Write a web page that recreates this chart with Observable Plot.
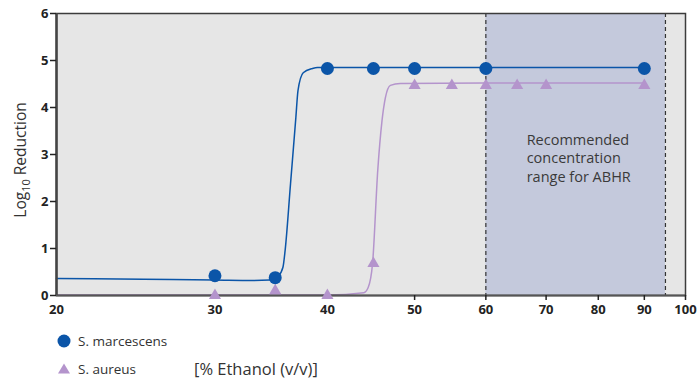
<!DOCTYPE html>
<html>
<head>
<meta charset="utf-8">
<script src="https://cdn.jsdelivr.net/npm/d3@7"></script>
<script src="https://cdn.jsdelivr.net/npm/@observablehq/plot@0.6"></script>
<style>
  body { margin: 0; background: #fff; font-family: "Open Sans", sans-serif; }
  #wrap { position: relative; width: 698px; height: 379px; }
  .leg { position: absolute; left: 56px; font-size: 13.5px; color: #333; display: flex; align-items: center; }
  .leg svg { margin-right: 6px; }
</style>
</head>
<body>
<div id="wrap">
  <div id="chart"></div>
  <div class="leg" style="top:332px;"><svg width="16" height="16"><circle cx="8" cy="8" r="6.5" fill="#0b55a8"/></svg><span>S. marcescens</span></div>
  <div class="leg" style="top:357px;"><svg width="16" height="16"><path d="M8,2.5 L14,12.5 L2,12.5 Z" fill="#b494cc"/></svg><span style="width:116px">S. aureus</span><span style="font-size:16.5px; color:#333">[% Ethanol (v/v)]</span></div>
</div>
<script>
// Data
const marcX = [30, 35, 40, 45, 50, 60, 90];
const marcY = [0.42, 0.38, 4.83, 4.83, 4.83, 4.83, 4.83];
const aurX = [30, 35, 40, 45, 50, 55, 60, 65, 70, 90];
const aurY = [0, 0.1, 0, 0.68, 4.47, 4.47, 4.47, 4.47, 4.47, 4.47];
// Fitted curves
const marcCurveX = [20, 25, 30, 33, 34.5, 35.3, 35.7, 35.9, 36.4, 36.9, 37.1, 37.6, 38.5, 39, 60, 90];
const marcCurveY = [0.36, 0.345, 0.33, 0.32, 0.33, 0.42, 0.6, 0.96, 2.38, 3.79, 4.36, 4.74, 4.83, 4.85, 4.85, 4.85];
const aurCurveX = [20, 30, 40, 43.9, 44.4, 44.9, 45.5, 46.0, 46.4, 47.0, 48.2, 60, 90];
const aurCurveY = [0.01, 0.01, 0.01, 0.06, 0.17, 0.68, 2.66, 3.72, 4.21, 4.47, 4.51, 4.52, 4.52];
// Axes
const xTicks = [20, 30, 40, 50, 60, 70, 80, 90, 100];
const xTickMarks = [50, 60, 70, 80, 90, 100];
const yTicks = [0, 1, 2, 3, 4, 5, 6];
// Recommended range
const rangeX = [60, 95];
const noteLines = ["Recommended", "concentration", "range for ABHR"];
const noteX = 66.6;
const noteY = [3.3, 2.91, 2.51];

const marc = marcX.map((x, i) => ({x, y: marcY[i]}));
const aur = aurX.map((x, i) => ({x, y: aurY[i]}));
const marcCurve = marcCurveX.map((x, i) => ({x, y: marcCurveY[i]}));
const aurCurve = aurCurveX.map((x, i) => ({x, y: aurCurveY[i]}));
const notes = noteLines.map((t, i) => ({t, x: noteX, y: noteY[i]}));

const blue = "#0b55a8";
const purple = "#b494cc";

const chart = Plot.plot({
  width: 698,
  height: 318,
  marginLeft: 56,
  marginRight: 13,
  marginTop: 13,
  marginBottom: 23,
  style: {fontFamily: "Open Sans, sans-serif", background: "transparent"},
  x: {type: "log", domain: [20, 100]},
  y: {domain: [0, 6]},
  marks: [
    Plot.frame({fill: "#e6e6e6", stroke: null}),
    Plot.rect([{x1: rangeX[0], x2: rangeX[1]}], {x1: "x1", x2: "x2", y1: 0, y2: 6, fill: "#c4c9dc"}),
    Plot.ruleX(rangeX, {stroke: "#333", strokeDasharray: "4,3", strokeWidth: 1.2}),
    Plot.line(marcCurve, {x: "x", y: "y", stroke: blue, strokeWidth: 1.5, curve: "monotone-x"}),
    Plot.line(aurCurve, {x: "x", y: "y", stroke: purple, strokeWidth: 1.5, curve: "monotone-x"}),
    Plot.text(notes, {x: "x", y: "y", text: "t", textAnchor: "start", fontSize: 14.5, fill: "#3a3a3a"}),
    Plot.frame({stroke: "#3c3c3c", strokeWidth: 1.5}),
    Plot.ruleX([20], {stroke: "#444", strokeWidth: 2.5}),
    Plot.ruleY([0], {stroke: "#555", strokeWidth: 2}),
    Plot.dot(aur, {x: "x", y: "y", symbol: "triangle", r: 4.5, fill: purple, stroke: null}),
    Plot.dot(marc, {x: "x", y: "y", r: 6.5, fill: blue, stroke: null}),
    Plot.axisX({ticks: xTicks, tickSize: 0, tickPadding: 9, tickFormat: d => String(d), fontSize: 13, fontWeight: "bold", fill: "#222", label: null}),
    Plot.axisX({ticks: xTickMarks, tickSize: 5, tickFormat: () => "", stroke: "#222", strokeWidth: 1.5, label: null}),
    Plot.axisY({ticks: yTicks, tickSize: 6, tickPadding: 2, tickFormat: d => String(d), fontSize: 13, fontWeight: "bold", fill: "#222", stroke: "#222", strokeWidth: 1.5, label: null})
  ]
});
document.getElementById("chart").appendChild(chart);

// Y axis title with subscript
const svg = d3.select(chart);
const t = svg.append("text")
  .attr("transform", "translate(26,160) rotate(-90)")
  .attr("text-anchor", "middle")
  .attr("font-size", 15.5)
  .attr("fill", "#333")
  .attr("font-family", "Open Sans, sans-serif");
t.append("tspan").text("Log");
t.append("tspan").attr("font-size", 11).attr("dy", 4).text("10");
t.append("tspan").attr("dy", -4).text(" Reduction");
</script>
</body>
</html>
